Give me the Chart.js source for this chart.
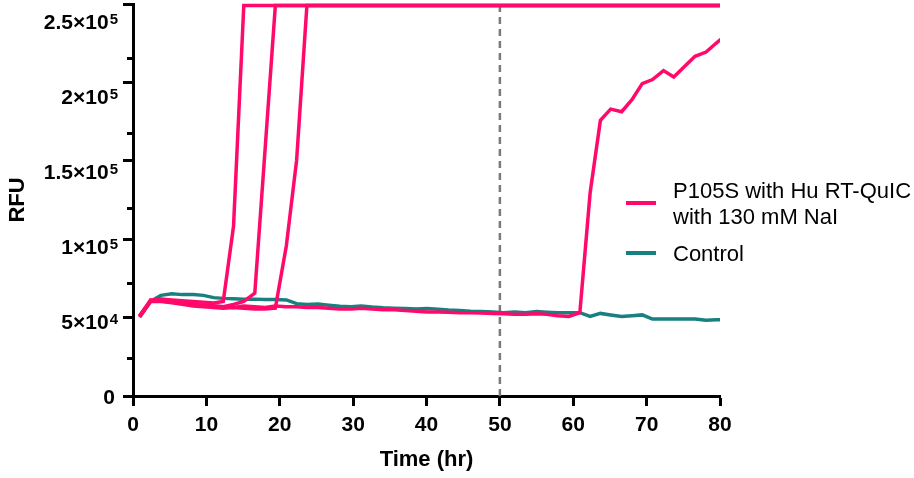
<!DOCTYPE html>
<html>
<head>
<meta charset="utf-8">
<script src="https://cdn.jsdelivr.net/npm/chart.js@4.4.0/dist/chart.umd.min.js"></script>
<style>
    html, body { margin: 0; padding: 0; background: #fff; }
    #wrap { width: 914px; height: 478px; }
</style>
</head>
<body>
<div id="wrap"><canvas id="grafico" width="914" height="478"></canvas></div>
<script>
// tempos de leitura (hr)
const tempos = [
    0.9, 2.4, 3.8, 5.3, 6.7, 8.2, 9.6, 11.0, 12.3, 13.7,
    15.1, 16.6, 18.0, 19.4, 20.9, 22.3, 23.7, 25.2, 26.7, 28.2,
    29.7, 31.1, 32.6, 34.1, 35.6, 37.1, 38.6, 40.1, 41.6, 43.0,
    44.5, 46.0, 47.5, 49.0, 50.5, 52.0, 53.5, 55.0, 56.4, 57.9,
    59.4, 60.9, 62.3, 63.7, 65.1, 66.6, 68.0, 69.4, 70.8, 72.3,
    73.7, 75.2, 76.6, 78.1, 79.5, 81.0
];

// P105S - poço 1
const pocoA = [
    53500, 63500, 64500, 64000, 63500, 63000, 62500, 62000, 63000, 113000,
    260000, 260000, 260000, 260000, 260000, 260000, 260000, 260000, 260000, 260000,
    260000, 260000, 260000, 260000, 260000, 260000, 260000, 260000, 260000, 260000,
    260000, 260000, 260000, 260000, 260000, 260000, 260000, 260000, 260000, 260000,
    260000, 260000, 260000, 260000, 260000, 260000, 260000, 260000, 260000, 260000,
    260000, 260000, 260000, 260000, 260000, 260000
];

// P105S - poço 2
const pocoB = [
    53000, 64000, 63000, 62500, 62000, 61000, 60500, 60000, 59500, 61000,
    63000, 68500, 164000, 260000, 260000, 260000, 260000, 260000, 260000, 260000,
    260000, 260000, 260000, 260000, 260000, 260000, 260000, 260000, 260000, 260000,
    260000, 260000, 260000, 260000, 260000, 260000, 260000, 260000, 260000, 260000,
    260000, 260000, 260000, 260000, 260000, 260000, 260000, 260000, 260000, 260000,
    260000, 260000, 260000, 260000, 260000, 260000
];

// P105S - poço 3
const pocoC = [
    52500, 63000, 63000, 62000, 61000, 60000, 59500, 59000, 58500, 59000,
    58500, 58000, 58000, 58500, 100000, 157000, 260000, 260000, 260000, 260000,
    260000, 260000, 260000, 260000, 260000, 260000, 260000, 260000, 260000, 260000,
    260000, 260000, 260000, 260000, 260000, 260000, 260000, 260000, 260000, 260000,
    260000, 260000, 260000, 260000, 260000, 260000, 260000, 260000, 260000, 260000,
    260000, 260000, 260000, 260000, 260000, 260000
];

// P105S - poço 4
const pocoD = [
    53000, 63500, 63500, 63000, 62000, 61000, 60000, 60000, 59500, 59000,
    60000, 59500, 59000, 60000, 59500, 59500, 59000, 59000, 58500, 58000,
    58000, 58500, 58000, 57500, 57500, 57000, 56500, 56000, 56000, 55700,
    55500, 55500, 55200, 55000, 54800, 54500, 54500, 54800, 54500, 53500,
    53000, 55500, 135300, 183500, 191000, 189300, 197300, 208000, 210700, 216700,
    212400, 219500, 226200, 229000, 235000, 241000
];

// controle
const controle = [
    53000, 63000, 67000, 68000, 67500, 67500, 67000, 65500, 65000, 64700,
    64500, 64500, 64200, 64200, 64000, 61500, 61000, 61200, 60500, 59800,
    59500, 60000, 59300, 58800, 58500, 58200, 58000, 58200, 57800, 57300,
    57000, 56500, 56200, 56000, 55500, 56000, 55500, 56200, 55800, 55500,
    55500, 55500, 53000, 55000, 54000, 53000, 53500, 54000, 51200, 51200,
    51300, 51300, 51200, 50500, 50700, 50700
];

// rotulos do eixo y: [base, expoente]
const rotulosY = [['0', ''], ['5×10', '4'], ['1×10', '5'], ['1.5×10', '5'], ['2×10', '5'], ['2.5×10', '5']];
const legendas = [['P105S with Hu RT-QuIC', 'with 130 mM NaI'], ['Control']];
const linhaLimite = 50; // hr

const cores = {
    rosa: '#FF0A6A',
    verde: '#188080',
    cinza: '#7a7a7a'
};

const familia = "'Liberation Sans', Arial, sans-serif";
const fonteTicks = { family: familia, size: 21, weight: 'bold' };
const fonteTitulo = { family: familia, size: 22, weight: 'bold' };

function pontos(valores) {
    return tempos.map((t, i) => ({ x: t, y: valores[i] }));
}

function serie(valores, cor) {
    return {
        data: pontos(valores),
        borderColor: cor,
        borderWidth: 3.5,
        pointRadius: 0,
        tension: 0,
        fill: false,
        clip: { left: 5, top: 5, right: 0, bottom: 5 }
    };
}

// linha tracejada, ticks menores, rotulos y com expoente e legenda
const extras = {
    id: 'extras',
    beforeDatasetsDraw(chart) {
        const { ctx, chartArea, scales } = chart;
        const x = scales.x.getPixelForValue(linhaLimite);
        ctx.save();
        ctx.strokeStyle = cores.cinza;
        ctx.lineWidth = 2.5;
        ctx.setLineDash([7, 5]);
        ctx.beginPath();
        ctx.moveTo(x, chartArea.bottom);
        ctx.lineTo(x, chartArea.top);
        ctx.stroke();
        ctx.restore();
    },
    afterDraw(chart) {
        const { ctx, chartArea, scales } = chart;
        ctx.save();
        // ticks menores do eixo y
        ctx.strokeStyle = '#000';
        ctx.lineWidth = 3;
        for (let v = 25000; v < 260000; v += 50000) {
            const y = Math.round(scales.y.getPixelForValue(v)) + 0.5;
            ctx.beginPath();
            ctx.moveTo(chartArea.left - 6, y);
            ctx.lineTo(chartArea.left, y);
            ctx.stroke();
        }

        // rotulos do eixo y (base + expoente sobrescrito)
        ctx.fillStyle = '#000';
        ctx.textAlign = 'right';
        ctx.textBaseline = 'alphabetic';
        const direita = chartArea.left - 15;
        rotulosY.forEach((r, i) => {
            const y = scales.y.getPixelForValue(i * 50000);
            if (!r[1]) {
                ctx.font = `bold 21px ${familia}`;
                ctx.fillText(r[0], direita - 3, y + 8);
                return;
            }
            ctx.font = `bold 15px ${familia}`;
            const larguraExp = ctx.measureText(r[1]).width;
            ctx.fillText(r[1], direita, y + 3);
            ctx.font = `bold 21px ${familia}`;
            ctx.fillText(r[0], direita - larguraExp - 1, y + 8);
        });

        // legenda (fica por cima da area do grafico)
        const lx = chartArea.right - 94;
        const tx = chartArea.right - 47;
        ctx.textAlign = 'left';
        ctx.font = `22px ${familia}`;
        ctx.lineWidth = 4;

        ctx.strokeStyle = cores.rosa;
        ctx.beginPath();
        ctx.moveTo(lx, 203);
        ctx.lineTo(lx + 30, 203);
        ctx.stroke();
        ctx.fillText(legendas[0][0], tx, 198);
        ctx.fillText(legendas[0][1], tx, 224);

        ctx.strokeStyle = cores.verde;
        ctx.beginPath();
        ctx.moveTo(lx, 253);
        ctx.lineTo(lx + 30, 253);
        ctx.stroke();
        ctx.fillText(legendas[1][0], tx, 261);
        ctx.restore();
    }
};

const ctx = document.getElementById('grafico');

new Chart(ctx, {
    type: 'line',
    data: {
        datasets: [
            serie(pocoA, cores.rosa),
            serie(pocoB, cores.rosa),
            serie(pocoC, cores.rosa),
            serie(pocoD, cores.rosa),
            serie(controle, cores.verde)
        ]
    },
    options: {
        responsive: false,
        animation: false,
        devicePixelRatio: 1,
        layout: {
            padding: { top: 4, right: 194, left: 0, bottom: 0 }
        },
        plugins: {
            legend: { display: false },
            tooltip: { enabled: false }
        },
        scales: {
            x: {
                type: 'linear',
                min: 0,
                max: 80,
                afterFit: (s) => { s.height = 82; },
                border: { color: '#000', width: 3 },
                grid: {
                    drawOnChartArea: false,
                    tickLength: 10,
                    tickWidth: 3,
                    tickColor: '#000'
                },
                ticks: {
                    stepSize: 10,
                    color: '#000',
                    font: fonteTicks,
                    padding: 7,
                    maxRotation: 0,
                    autoSkip: false
                },
                title: {
                    display: true,
                    text: 'Time (hr)',
                    color: '#000',
                    font: fonteTitulo,
                    padding: { top: 0, bottom: 5 }
                }
            },
            y: {
                min: 0,
                max: 261000,
                bounds: 'data',
                afterFit: (s) => {
                    s.width = 133;
                    s.paddingTop = 0;
                    s.paddingBottom = 0;
                },
                border: { color: '#000', width: 3 },
                grid: {
                    drawOnChartArea: false,
                    tickLength: 10,
                    tickWidth: 3,
                    tickColor: '#000'
                },
                ticks: {
                    stepSize: 50000,
                    includeBounds: false,
                    autoSkip: false,
                    color: '#000',
                    font: fonteTicks,
                    callback: () => ''
                },
                title: {
                    display: true,
                    text: 'RFU',
                    color: '#000',
                    font: fonteTitulo,
                    padding: { top: 5, bottom: 0 }
                }
            }
        }
    },
    plugins: [extras]
});
</script>
</body>
</html>
